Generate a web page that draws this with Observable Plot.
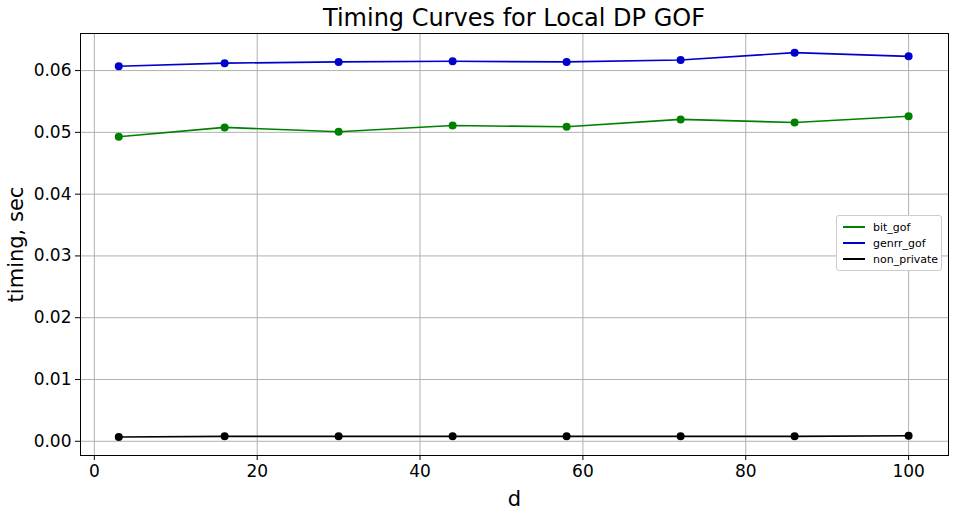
<!DOCTYPE html>
<html>
<head>
<meta charset="utf-8">
<script src="https://cdn.jsdelivr.net/npm/d3@7"></script>
<script src="https://cdn.jsdelivr.net/npm/@observablehq/plot@0.6"></script>
<style>
  body { margin: 0; background: white; font-family: "DejaVu Sans", sans-serif; }
  #wrap { position: relative; width: 955px; }
  #title { height: 30px; line-height: 36px; font-size: 24px; text-align: center; padding-left: 73px; }
  #legend { position: absolute; left: 836px; top: 215px; width: 104px; padding: 3px 0;
    border: 1px solid #ccc; border-radius: 3px; background: white; font-size: 11px; }
  #legend div { display: flex; align-items: center; height: 16px; }
  #legend span.l { display: inline-block; width: 22px; height: 2px; margin: 0 8px 0 6px; }
</style>
</head>
<body>
<div id="wrap">
  <div id="title">Timing Curves for Local DP GOF</div>
  <div id="chart"></div>
  <div id="legend">
    <div><span class="l" style="background:green"></span>bit_gof</div>
    <div><span class="l" style="background:#0000cc"></span>genrr_gof</div>
    <div><span class="l" style="background:black"></span>non_private</div>
  </div>
</div>
<script>
const dValues = [3, 16, 30, 44, 58, 72, 86, 100];
const bitGof = [0.0493, 0.0508, 0.0501, 0.0511, 0.0509, 0.0521, 0.0516, 0.0526];
const genrrGof = [0.0607, 0.0612, 0.0614, 0.0615, 0.0614, 0.0617, 0.0629, 0.0623];
const nonPrivate = [0.0007, 0.0008, 0.0008, 0.0008, 0.0008, 0.0008, 0.0008, 0.0009];

const series = [
  { name: "bit_gof", color: "green", values: bitGof },
  { name: "genrr_gof", color: "#0000cc", values: genrrGof },
  { name: "non_private", color: "black", values: nonPrivate }
];
const data = series.flatMap(s => dValues.map((d, i) => ({ d, t: s.values[i], name: s.name, color: s.color })));

const chart = Plot.plot({
  width: 955,
  height: 484,
  marginTop: 3,
  marginLeft: 80,
  marginRight: 7,
  marginBottom: 59,
  style: { "font-family": "DejaVu Sans, sans-serif", "font-size": "17px", color: "black", background: "white" },
  x: { domain: [-1.7, 104.9] },
  y: { domain: [-0.0023, 0.066] },
  marks: [
    Plot.gridX([0, 20, 40, 60, 80, 100], { stroke: "#b0b0b0", strokeOpacity: 1 }),
    Plot.gridY([0, 0.01, 0.02, 0.03, 0.04, 0.05, 0.06], { stroke: "#b0b0b0", strokeOpacity: 1 }),
    Plot.frame({ stroke: "black" }),
    Plot.axisX({ ticks: [0, 20, 40, 60, 80, 100], label: "d", labelAnchor: "center", labelArrow: "none", labelOffset: 50, fontSize: 17, tickSize: 5 }),
    Plot.axisY({ ticks: [0, 0.01, 0.02, 0.03, 0.04, 0.05, 0.06], tickFormat: d3.format(".2f"), label: "timing, sec", labelAnchor: "center", labelArrow: "none", labelOffset: 72, fontSize: 17, tickSize: 5 }),
    Plot.line(data, { x: "d", y: "t", z: "name", stroke: "color", strokeWidth: 1.6 }),
    Plot.dot(data, { x: "d", y: "t", fill: "color", r: 4 })
  ]
});
d3.select("#chart").append(() => chart);
d3.select(chart).selectAll("[aria-label='x-axis label'] text, [aria-label='y-axis label'] text").style("font-size", "21px");
</script>
</body>
</html>
